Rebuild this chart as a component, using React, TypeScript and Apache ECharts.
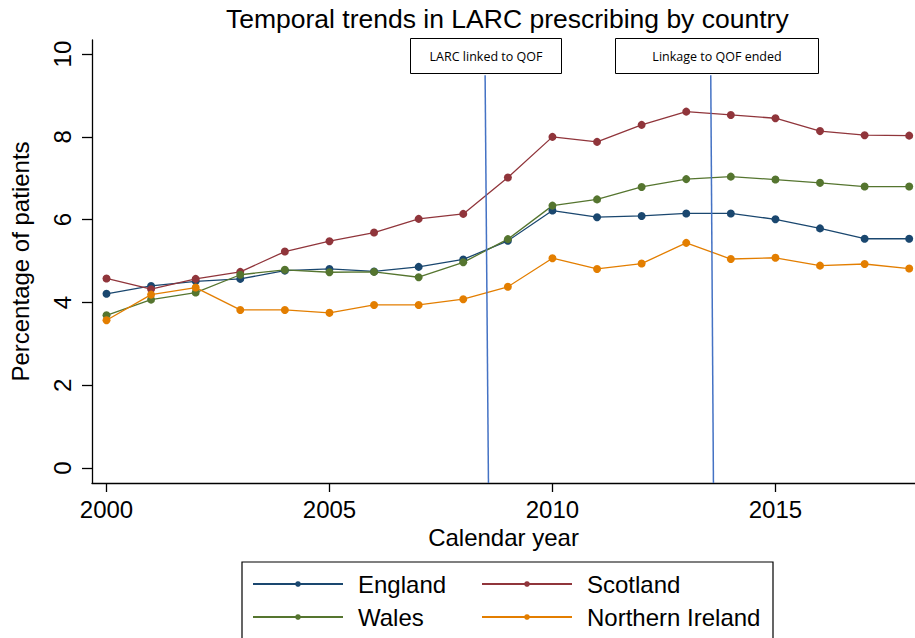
import React, { useEffect, useRef } from "react";
import * as echarts from "echarts";

const years = [2000, 2001, 2002, 2003, 2004, 2005, 2006, 2007, 2008, 2009, 2010, 2011, 2012, 2013, 2014, 2015, 2016, 2017, 2018];
const england = [4.21, 4.40, 4.51, 4.57, 4.77, 4.81, 4.75, 4.86, 5.04, 5.49, 6.22, 6.06, 6.09, 6.15, 6.15, 6.01, 5.79, 5.54, 5.54];
const scotland = [4.58, 4.32, 4.57, 4.74, 5.23, 5.48, 5.69, 6.02, 6.14, 7.02, 8.00, 7.88, 8.29, 8.61, 8.53, 8.45, 8.14, 8.04, 8.03];
const wales = [3.69, 4.07, 4.24, 4.67, 4.79, 4.73, 4.74, 4.61, 4.97, 5.53, 6.34, 6.49, 6.79, 6.98, 7.04, 6.97, 6.89, 6.80, 6.80];
const northernIreland = [3.57, 4.19, 4.36, 3.82, 3.82, 3.75, 3.94, 3.94, 4.08, 4.38, 5.07, 4.81, 4.94, 5.44, 5.05, 5.08, 4.89, 4.93, 4.82];
const xTicks = [2000, 2005, 2010, 2015];
const yTicks = [0, 2, 4, 6, 8, 10];
// annotation lines (slightly slanted, as in source): [top x, top y], [bottom x, bottom y]
const qofStart = [[2008.49, 9.49], [2008.565, -0.36]];
const qofEnd = [[2013.55, 9.49], [2013.61, -0.36]];

const seriesDefs = [
  { name: "England", data: england, color: "#1a476f" },
  { name: "Scotland", data: scotland, color: "#90353b" },
  { name: "Wales", data: wales, color: "#55752f" },
  { name: "Northern Ireland", data: northernIreland, color: "#e37e00" },
];

const FONT = "'Liberation Sans', Arial, sans-serif";

export default function App() {
  const ref = useRef<HTMLDivElement>(null);
  useEffect(() => {
    if (!ref.current) return;
    const chart = echarts.init(ref.current, null, { renderer: "svg" });
    const lineBlue = "#4472c4";
    const series: any[] = seriesDefs.map((s) => ({
      name: s.name,
      type: "line",
      data: years.map((y, i) => [y, s.data[i]]),
      symbol: "circle",
      symbolSize: 8,
      color: s.color,
      lineStyle: { width: 1.3, color: s.color },
      itemStyle: { color: s.color },
      z: 3,
    }));
    series.push({
      type: "line",
      data: [],
      silent: true,
      markLine: {
        silent: true,
        symbol: "none",
        label: { show: false },
        lineStyle: { color: lineBlue, width: 1.5, type: "solid" },
        data: [
          [{ coord: qofStart[0] }, { coord: qofStart[1] }],
          [{ coord: qofEnd[0] }, { coord: qofEnd[1] }],
        ],
      },
    });
    const legendPos = [
      { left: 252, top: 572 },
      { left: 481, top: 572 },
      { left: 252, top: 605 },
      { left: 481, top: 605 },
    ];
    const legends = seriesDefs.map((s, i) => ({
      data: [s.name],
      left: legendPos[i].left,
      top: legendPos[i].top,
      padding: 0,
      itemWidth: 90,
      itemHeight: 7,
      selectedMode: false,
      textStyle: { fontFamily: FONT, fontSize: 24, color: "#000", padding: [0, 0, 0, 10] },
    }));
    chart.setOption({
      animation: false,
      backgroundColor: "#fff",
      title: {
        text: "Temporal trends in LARC prescribing by country",
        left: 226,
        top: 5,
        padding: 0,
        textStyle: { fontFamily: FONT, fontSize: 26.5, fontWeight: "normal", color: "#000" },
      },
      legend: legends,
      grid: { left: 92, right: 0, top: 40, bottom: 155, containLabel: false },
      xAxis: {
        type: "value",
        min: 1999.675,
        max: 2018.13,
        name: "Calendar year",
        nameLocation: "middle",
        nameGap: 39,
        nameTextStyle: { fontFamily: FONT, fontSize: 24, color: "#000" },
        axisLine: { show: true, onZero: false, lineStyle: { color: "#000", width: 1.3 } },
        axisTick: { show: true, length: 9, customValues: xTicks, lineStyle: { color: "#000", width: 1.3 } },
        axisLabel: { customValues: xTicks, margin: 14, fontFamily: FONT, fontSize: 24, color: "#000", formatter: (v: number) => String(v) },
        splitLine: { show: false },
      },
      yAxis: {
        type: "value",
        min: -0.36,
        max: 10.34,
        name: "Percentage of patients",
        nameLocation: "middle",
        nameGap: 60,
        nameRotate: 90,
        nameTextStyle: { fontFamily: FONT, fontSize: 24, color: "#000" },
        axisLine: { show: true, onZero: false, lineStyle: { color: "#000", width: 1.3 } },
        axisTick: { show: true, length: 10, customValues: yTicks, lineStyle: { color: "#000", width: 1.3 } },
        axisLabel: { customValues: yTicks, rotate: 90, margin: 18, fontFamily: FONT, fontSize: 24, color: "#000" },
        splitLine: { show: false },
      },
      series,
      graphic: [
        {
          type: "rect",
          shape: { x: 242, y: 562, width: 531, height: 100 },
          style: { fill: "none", stroke: "#000", lineWidth: 1.2 },
          z: 0,
        },
        {
          type: "group",
          children: [
            { type: "rect", shape: { x: 410.5, y: 38.5, width: 151, height: 35 }, style: { fill: "#fff", stroke: "#000", lineWidth: 1 } },
            { type: "text", x: 486, y: 56, style: { text: "LARC linked to QOF", fontFamily: "'Open Sans', sans-serif", fontSize: 12.5, fill: "#000", align: "center", verticalAlign: "middle" } },
            { type: "rect", shape: { x: 615.5, y: 38.5, width: 203, height: 35 }, style: { fill: "#fff", stroke: "#000", lineWidth: 1 } },
            { type: "text", x: 717, y: 56, style: { text: "Linkage to QOF ended", fontFamily: "'Open Sans', sans-serif", fontSize: 12.5, fill: "#000", align: "center", verticalAlign: "middle" } },
          ],
          z: 10,
        },
      ],
    });
    return () => chart.dispose();
  }, []);
  return <div ref={ref} style={{ position: "fixed", left: 0, top: 0, width: 915, height: 638 }} />;
}
